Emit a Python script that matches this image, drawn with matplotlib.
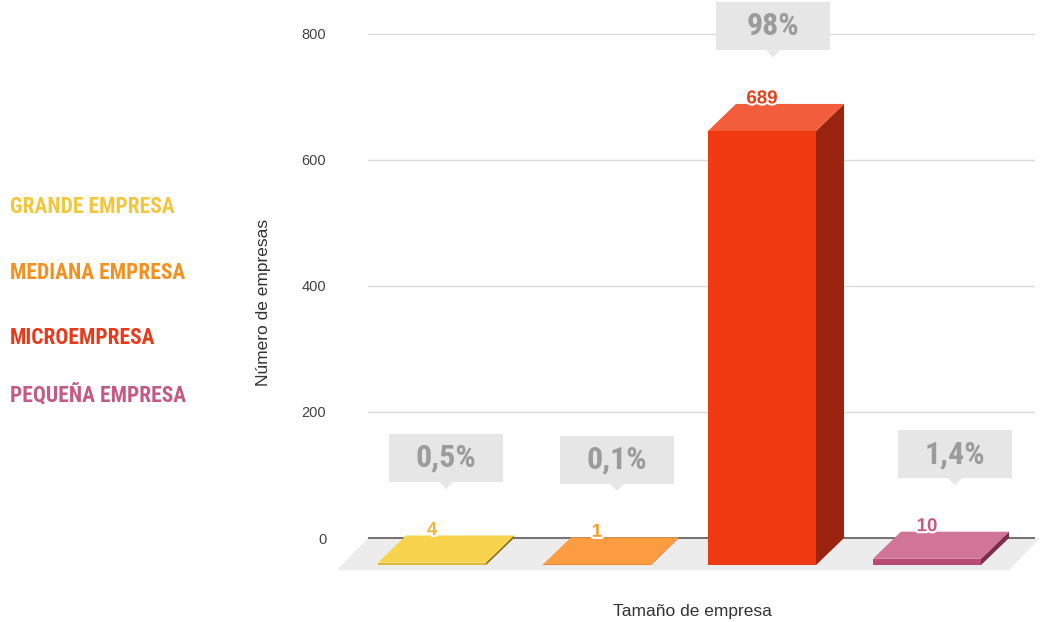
import matplotlib
matplotlib.use("Agg")
import matplotlib.pyplot as plt
import matplotlib.patheffects as pe
from matplotlib import font_manager as fm
from matplotlib.patches import Polygon, Rectangle

# company size breakdown
categories = ["Grande empresa", "Mediana empresa", "Microempresa", "Pequeña empresa"]
counts = [4, 1, 689, 10]
shares = ["0,5%", "0,1%", "98%", "1,4%"]
legend_labels = ["GRANDE EMPRESA", "MEDIANA EMPRESA", "MICROEMPRESA", "PEQUEÑA EMPRESA"]
y_ticks = [0, 200, 400, 600, 800]

# face colours per bar: top, front, side, value label, legend text
TOP = ["#f8d44e", "#fd9c40", "#f25d3c", "#d07596"]
FRONT = ["#e2b532", "#ea8628", "#ef3a12", "#b94a76"]
SIDE = ["#8c6e16", "#94520f", "#9b2410", "#7c2c4c"]
VALUE_COL = ["#f5b53a", "#f39a2a", "#e8401e", "#c45a85"]
LEGEND_COL = ["#f2c63d", "#f5901f", "#e8391a", "#c65a86"]

W = 0.655      # bar width (x units)
DX = 0.17      # depth offset, x units
DY = 43.0      # depth offset, y units
BOX_W = 0.69
BOX_H = 76.0
box_shift = [0.0, 0.036, -0.018, 0.085]

plt.rcParams["font.family"] = ["Liberation Sans", "DejaVu Sans"]


def condensed_bold():
    prefs = ["Liberation Sans Narrow", "Roboto Condensed", "Open Sans Condensed",
             "Noto Sans Condensed", "DejaVu Sans Condensed"]
    found = []
    for f in fm.fontManager.ttflist:
        w = f.weight
        if isinstance(w, str):
            w = fm.weight_dict.get(w, 400)
        if w < 600 or f.style != "normal":
            continue
        name = f.name.lower()
        narrow = ("narrow" in name or "condensed" in name or
                  f.stretch in ("condensed", "semi-condensed", "extra-condensed"))
        if not narrow or "extra" in name or "semi" in name:
            continue
        rank = prefs.index(f.name) if f.name in prefs else len(prefs)
        found.append((rank, f.fname))
    if found:
        found.sort()
        return found[0][1]
    return None


narrow_path = condensed_bold()


def narrow_font(size):
    if narrow_path:
        return fm.FontProperties(fname=narrow_path, size=size)
    return fm.FontProperties(family="DejaVu Sans", weight="bold", size=size)


fig = plt.figure(figsize=(10.42, 6.22), dpi=100)
ax = fig.add_axes([368 / 1042, (622 - 575.8) / 622, 667 / 1042, 573.3 / 622])
ax.set_xlim(-0.388, 3.655)
ax.set_ylim(-60, 850)

for s in ax.spines.values():
    s.set_visible(False)
ax.set_xticks([])
ax.set_yticks(y_ticks)
ax.tick_params(axis="y", length=0, pad=30, labelsize=10.5, labelcolor="#444444")
ax.grid(axis="y", color="#dadada", linewidth=1)
ax.set_axisbelow(True)

# floor of the 3D box
floor = Polygon([(-0.388, 0), (3.685, 0), (3.497, -51), (-0.576, -51)],
                closed=True, facecolor="#ececec", edgecolor="none",
                zorder=1, clip_on=False)
ax.add_patch(floor)
ax.axhline(0, color="#5a5a5a", linewidth=1.2, zorder=2)

for i, v in enumerate(counts):
    x0, x1 = i - W / 2, i + W / 2
    side = Polygon([(x1, -DY), (x1 + DX, 0), (x1 + DX, v), (x1, v - DY)],
                   closed=True, facecolor=SIDE[i], edgecolor="none", zorder=3)
    top = Polygon([(x0, v - DY), (x1, v - DY), (x1 + DX, v), (x0 + DX, v)],
                  closed=True, facecolor=TOP[i], edgecolor="none", zorder=3)
    front = Rectangle((x0, -DY), W, v, facecolor=FRONT[i], edgecolor="none", zorder=3)
    for p in (side, top, front):
        p.set_clip_on(False)
        ax.add_patch(p)

    ax.text(i, v + 8, str(v), ha="center", va="center", fontsize=13.5,
            fontweight="bold", color=VALUE_COL[i], zorder=5,
            path_effects=[pe.withStroke(linewidth=3, foreground="white")])

    # share callout above the bar
    bx = i + DX / 2 + box_shift[i]
    bottom = v + 85
    ax.add_patch(Rectangle((bx - BOX_W / 2, bottom), BOX_W, BOX_H,
                           facecolor="#e6e6e6", edgecolor="none", zorder=4,
                           clip_on=False))
    ax.add_patch(Polygon([(bx - 0.042, bottom), (bx + 0.042, bottom), (bx, bottom - 11)],
                         closed=True, facecolor="#e6e6e6", edgecolor="none",
                         zorder=4, clip_on=False))
    ax.text(bx, bottom + BOX_H / 2, shares[i], ha="center", va="center",
            fontproperties=narrow_font(23), color="#9b9b9b", zorder=5)

ax.set_ylabel("Número de empresas", fontsize=12.5, color="#333333",
              ha="center", va="center")
ax.yaxis.set_label_coords(-0.157, 0.476)
ax.set_xlabel("Tamaño de empresa", fontsize=12.5, color="#333333", va="center")
ax.xaxis.set_label_coords(0.486, -0.063)

legend_y = [207, 273, 338, 395]
for label, col, py in zip(legend_labels, LEGEND_COL, legend_y):
    fig.text(10 / 1042, 1 - py / 622, label, ha="left", va="center",
             fontproperties=narrow_font(15.5), color=col)

fig.savefig("out.png", dpi=100)
plt.close(fig)
